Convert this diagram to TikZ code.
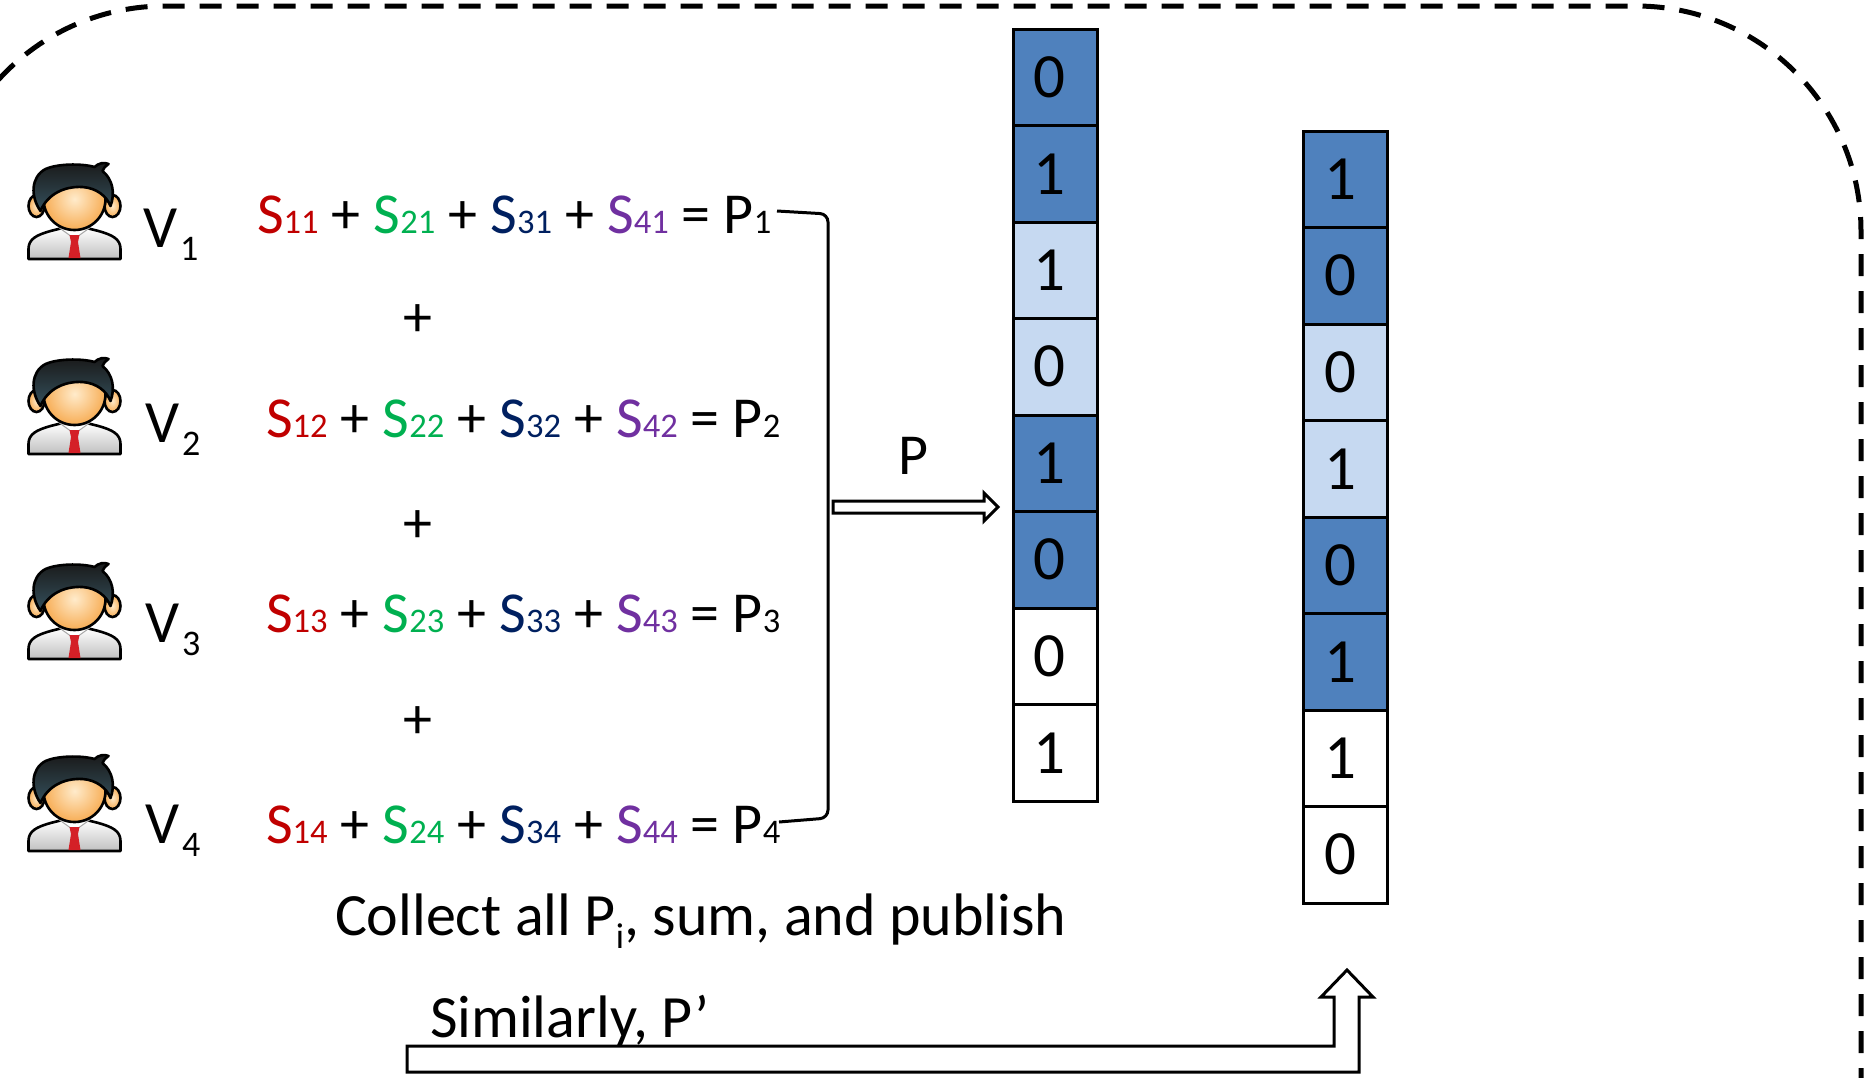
\documentclass[tikz,border=0pt]{standalone}
\usepackage{fontspec}
\setmainfont{Carlito}
\usetikzlibrary{calc}

\definecolor{sred}{HTML}{C00000}
\definecolor{sgreen}{HTML}{00B050}
\definecolor{sblue}{HTML}{002060}
\definecolor{spurple}{HTML}{7030A0}
\definecolor{cdark}{HTML}{4F81BD}
\definecolor{clight}{HTML}{C6D9F1}
\definecolor{faceIn}{HTML}{FFEBCB}
\definecolor{faceOut}{HTML}{F7AD55}
\definecolor{hairHi}{HTML}{34505C}
\definecolor{tiered}{HTML}{D42027}

% small digits that sit on the baseline
\newcommand{\sm}[1]{{\fontsize{34.5}{34.5}\selectfont #1}}
% one row of shares: S1k + S2k + S3k + S4k = Pk
\newcommand{\eqrow}[1]{\textcolor{sred}{S\sm{1#1}} + \textcolor{sgreen}{S\sm{2#1}} + \textcolor{sblue}{S\sm{3#1}} + \textcolor{spurple}{S\sm{4#1}} = P\sm{#1}}
% voter label V with lowered index
\newcommand{\vlab}[1]{V\kern3pt\raisebox{-13pt}{\fontsize{36}{36}\selectfont #1}}

\tikzset{
  big/.style={font=\fontsize{60}{60}\selectfont},
  eqfont/.style={font=\fontsize{58}{58}\selectfont},
  cell/.style={draw, line width=3pt, minimum width=84pt, minimum height=96.5pt,
    font=\fontsize{63}{63}\selectfont},
  hollow/.style={draw, line width=3pt, fill=white, line join=miter},
  pics/person/.style={code={
    % shirt
    \shadedraw[line width=2.6pt, top color=white, bottom color=black!25, line join=round]
      (-46,94) -- (-46,84) .. controls (-46,74) and (-38,70) .. (-24,66) -- (-12,63)
      -- (12,63) -- (24,66) .. controls (38,70) and (46,74) .. (46,84) -- (46,94) -- cycle;
    % collar
    \draw[line width=1pt, draw=black!35, fill=white] (-15,63) -- (-1,73) -- (1,73) -- (15,63);
    % tie
    \fill[tiered] (-5,70) -- (5,70) -- (3.5,77) -- (-3.5,77) -- cycle;
    \fill[tiered] (-3.5,77) -- (3.5,77) -- (6,93) -- (-6,93) -- cycle;
    % ears
    \shadedraw[line width=2.6pt, inner color=faceIn, outer color=faceOut] (-38,41) ellipse [x radius=8, y radius=11];
    \shadedraw[line width=2.6pt, inner color=faceIn, outer color=faceOut] (38,41) ellipse [x radius=8, y radius=11];
    % face
    \shadedraw[line width=2.6pt, inner color=faceIn, outer color=faceOut] (0,34) ellipse [x radius=31, y radius=31];
    % hair
    \shadedraw[line width=2.6pt, top color=black!90, bottom color=hairHi, line join=round]
      (-34,46) .. controls (-44,32) and (-44,12) .. (-29,4)
      .. controls (-18,-1) and (6,-2) .. (20,2)
      .. controls (24,-2) and (30,-3) .. (34,-1)
      .. controls (31,1) and (29,3) .. (28,6)
      .. controls (38,14) and (41,28) .. (36,41)
      .. controls (32,31) and (22,23) .. (8,22)
      .. controls (-10,21) and (-27,29) .. (-34,46) -- cycle;
  }}
}

\begin{document}
\begin{tikzpicture}[x=1pt, y=-1pt, every node/.style={inner sep=0pt, outer sep=0pt}]
\useasboundingbox (0,0) rectangle (1864,1077);

% dashed frame, partly outside the page
\begin{scope}
  \clip (0,0) rectangle (1864,1077);
  \draw[line width=5pt, dash pattern=on 22pt off 15pt, rounded corners=225pt]
    (-60,1400) rectangle (1861,6);
\end{scope}

% voters
\pic (p1) at (74.5,165) {person};
\pic (p2) at (74.5,360) {person};
\pic (p3) at (74.5,565) {person};
\pic (p4) at (74.5,757) {person};

\node[big, anchor=base west] (v1) at (143,247) {\vlab{1}};
\node[big, anchor=base west] (v2) at (145,442) {\vlab{2}};
\node[big, anchor=base west] (v3) at (145,642) {\vlab{3}};
\node[big, anchor=base west] (v4) at (145,843) {\vlab{4}};

% share sums
\node[eqfont, anchor=base west] (eq1) at (257,233) {\eqrow{1}};
\node[eqfont, anchor=base west] (eq2) at (266,437) {\eqrow{2}};
\node[eqfont, anchor=base west] (eq3) at (266,632) {\eqrow{3}};
\node[eqfont, anchor=base west] (eq4) at (266,843) {\eqrow{4}};

\node[eqfont] (plus1) at (418,321) {+};
\node[eqfont] (plus2) at (418,527) {+};
\node[eqfont] (plus3) at (418,723) {+};

% bracket gathering the P_i
\coordinate (brA) at (777,211);
\coordinate (brB) at (828,214);
\coordinate (brC) at (828,818);
\coordinate (brD) at (779,822);
\draw[line width=3pt, rounded corners=8pt] (brA) -- (brB) -- (brC) -- (brD);

% hollow arrow to P
\draw[hollow] (833,501) -- (984,501) -- (984,493) -- (998,507) -- (984,521) -- (984,513) -- (833,513) -- cycle;
\node[eqfont, anchor=base] (plab) at (913,474) {P};

% published vector P
\foreach \v/\f [count=\i from 0] in {0/cdark,1/cdark,1/clight,0/clight,1/cdark,0/cdark,0/white,1/white}
  \node[cell, fill=\f] (a\i) at (1055.5,{29+48.25+96.5*\i}) {\v\kern12pt};

% published vector P'
\foreach \v/\f [count=\i from 0] in {1/cdark,0/cdark,0/clight,1/clight,0/cdark,1/cdark,1/white,0/white}
  \node[cell, fill=\f] (b\i) at (1345.5,{131+48.25+96.5*\i}) {\v\kern10pt};

\node[big, anchor=base west] (collect) at (335,935)
  {Collect all P\raisebox{-13pt}{\fontsize{36}{36}\selectfont i}, sum, and publish};

% bent hollow arrow for P'
\draw[hollow] (407,1046) -- (1334,1046) -- (1334,997) -- (1321,997) -- (1347,970)
  -- (1373,997) -- (1359,997) -- (1359,1072) -- (407,1072) -- cycle;
\node[big, anchor=base west] (simil) at (430,1037) {Similarly, P’};
\end{tikzpicture}
\end{document}
